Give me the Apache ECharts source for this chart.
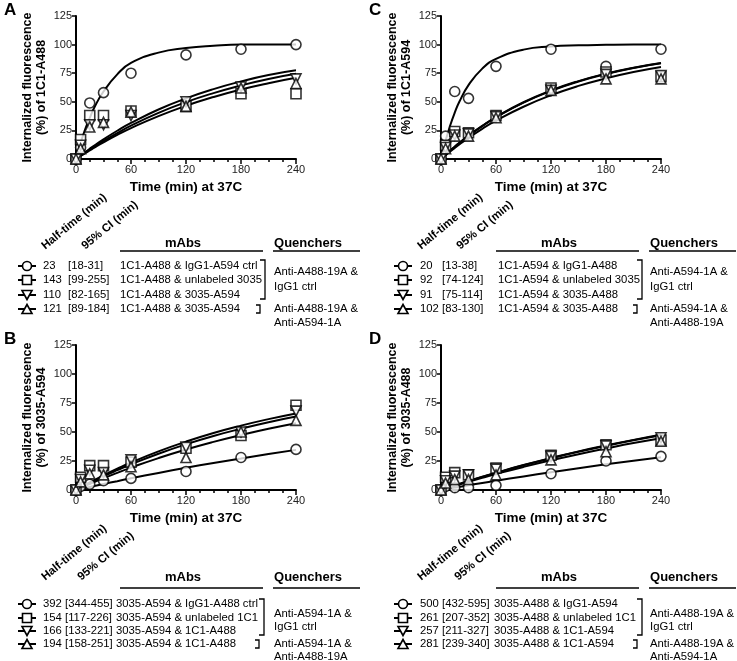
<!DOCTYPE html>
<html><head><meta charset="utf-8">
<script src="https://cdn.jsdelivr.net/npm/echarts@6/dist/echarts.min.js"></script>
<style>html,body{margin:0;padding:0;background:#fff}#c{width:737px;height:661px}</style>
</head><body><div id="c"></div>
<script>
// ---------- data ----------
const times = [0, 5, 15, 30, 60, 120, 180, 240];
const fitTimes = [0, 5, 10, 15, 20, 30, 45, 60, 90, 120, 150, 180, 210, 240];
const xTicks = [0, 60, 120, 180, 240];
const yTicks = [0, 25, 50, 75, 100, 125];

// Panel A (1C1-A488)
const A_circle = [0, 10, 49, 58, 75, 91, 96, 100];
const A_square = [0, 17, 38, 38, 42, 46, 57, 57];
const A_down   = [0, 12, 30, 30, 38, 50, 63, 70];
const A_up     = [0, 9, 28, 32, 41, 46, 62, 66];
const A_fitCircle = [0, 14, 26, 36, 45, 59, 74, 84, 93, 97, 99, 100, 100, 100];
const A_fitSquare = [0, 2.6, 5.1, 7.5, 9.9, 14.5, 21.0, 27.0, 37.5, 46.5, 54.2, 60.8, 66.3, 71.0];
const A_fitDown   = [0, 3.1, 6.1, 9.0, 11.8, 17.2, 24.7, 31.5, 43.3, 53.0, 61.1, 67.8, 73.4, 77.5];
const A_fitUp     = [0, 2.8, 5.6, 8.2, 10.8, 15.8, 22.7, 29.1, 40.3, 49.7, 57.6, 64.3, 70.0, 74.5];
const A_half = ['23', '143', '110', '121'];
const A_ci = ['[18-31]', '[99-255]', '[82-165]', '[89-184]'];
const A_mabs = ['1C1-A488 & IgG1-A594 ctrl', '1C1-A488 & unlabeled 3035', '1C1-A488 & 3035-A594', '1C1-A488 & 3035-A594'];
const A_q1 = ['Anti-A488-19A &', 'IgG1 ctrl'];
const A_q2 = ['Anti-A488-19A &', 'Anti-A594-1A'];

// Panel C (1C1-A594)
const C_circle = [0, 20, 59, 53, 81, 96, 81, 96];
const C_square = [0, 12, 24, 23, 38, 62, 76, 72];
const C_down   = [0, 10, 21, 22, 37, 60, 74, 73];
const C_up     = [0, 9, 20, 20, 36, 60, 70, 70];
const C_fitCircle = [0, 15.9, 29.3, 40.5, 50, 64.6, 79.0, 87.5, 95.6, 98.4, 99.4, 99.8, 100, 100];
const C_fitSquare = [0, 3.7, 7.3, 10.7, 14.0, 20.2, 28.7, 36.4, 49.2, 59.5, 67.7, 74.2, 79.5, 83.6];
const C_fitDown   = [0, 3.7, 7.3, 10.8, 14.1, 20.4, 29.0, 36.7, 49.6, 59.9, 68.1, 74.6, 79.8, 83.9];
const C_fitUp     = [0, 3.3, 6.6, 9.7, 12.7, 18.4, 26.4, 33.5, 45.7, 55.7, 63.9, 70.5, 76.0, 80.4];
const C_half = ['20', '92', '91', '102'];
const C_ci = ['[13-38]', '[74-124]', '[75-114]', '[83-130]'];
const C_mabs = ['1C1-A594 & IgG1-A488', '1C1-A594 & unlabeled 3035', '1C1-A594 & 3035-A488', '1C1-A594 & 3035-A488'];
const C_q1 = ['Anti-A594-1A &', 'IgG1 ctrl'];
const C_q2 = ['Anti-A594-1A &', 'Anti-A488-19A'];

// Panel B (3035-A594)
const B_circle = [0, 3, 5, 8, 10, 16, 28, 35];
const B_square = [0, 11, 21, 21, 24, 36, 47, 73];
const B_down   = [0, 9, 17, 15, 26, 37, 50, 68];
const B_up     = [0, 7, 14, 13, 20, 28, 50, 60];
const B_fitCircle = [0, 0.9, 1.8, 2.6, 3.5, 5.2, 7.6, 10.1, 14.7, 19.1, 23.3, 27.2, 31.0, 34.6];
const B_fitSquare = [0, 2.2, 4.4, 6.5, 8.6, 12.6, 18.3, 23.7, 33.3, 41.7, 49.1, 55.5, 61.1, 66.0];
const B_fitDown   = [0, 2.1, 4.1, 6.1, 8.0, 11.8, 17.1, 22.2, 31.3, 39.4, 46.6, 52.8, 58.4, 63.3];
const B_fitUp     = [0, 1.8, 3.5, 5.2, 6.9, 10.2, 14.8, 19.3, 27.5, 34.9, 41.5, 47.4, 52.8, 57.6];
const B_half = ['392', '154', '166', '194'];
const B_ci = ['[344-455]', '[117-226]', '[133-221]', '[158-251]'];
const B_mabs = ['3035-A594 & IgG1-A488 ctrl', '3035-A594 & unlabeled 1C1', '3035-A594 & 1C1-A488', '3035-A594 & 1C1-A488'];
const B_q1 = ['Anti-A594-1A &', 'IgG1 ctrl'];
const B_q2 = ['Anti-A594-1A &', 'Anti-A488-19A'];

// Panel D (3035-A488)
const D_circle = [0, 3, 2, 2, 4, 14, 25, 29];
const D_square = [0, 11, 15, 13, 19, 30, 39, 43];
const D_down   = [0, 8, 12, 13, 18, 29, 38, 45];
const D_up     = [0, 6, 9, 9, 13, 26, 33, 42];
const D_fitCircle = [0, 0.7, 1.4, 2.1, 2.7, 4.1, 6.0, 8.0, 11.7, 15.3, 18.8, 22.1, 25.3, 28.3];
const D_fitSquare = [0, 1.3, 2.6, 3.9, 5.2, 7.7, 11.3, 14.7, 21.3, 27.3, 32.9, 38.0, 42.8, 47.2];
const D_fitDown   = [0, 1.3, 2.7, 4.0, 5.3, 7.8, 11.4, 14.9, 21.5, 27.6, 33.3, 38.4, 43.2, 47.6];
const D_fitUp     = [0, 1.2, 2.4, 3.6, 4.8, 7.1, 10.5, 13.8, 19.9, 25.6, 30.9, 35.8, 40.5, 44.7];
const D_half = ['500', '261', '257', '281'];
const D_ci = ['[432-595]', '[207-352]', '[211-327]', '[239-340]'];
const D_mabs = ['3035-A488 & IgG1-A594', '3035-A488 & unlabeled 1C1', '3035-A488 & 1C1-A594', '3035-A488 & 1C1-A594'];
const D_q1 = ['Anti-A488-19A &', 'IgG1 ctrl'];
const D_q2 = ['Anti-A488-19A &', 'Anti-A594-1A'];

const yTitle1 = 'Internalized fluorescence';
const xTitle = 'Time (min) at 37C';

// ---------- layout ----------
const FF = "'Liberation Sans', Arial, Helvetica, sans-serif";
const font = (s, b) => (b ? 'bold ' : '') + s + 'px ' + FF;

const panels = [
  { letter: 'A', left: 76, top: 16, h: 143, yName: '(%) of 1C1-A488',
    pts: [A_circle, A_square, A_down, A_up], fits: [A_fitCircle, A_fitSquare, A_fitDown, A_fitUp],
    half: A_half, ci: A_ci, mabs: A_mabs, q1: A_q1, q2: A_q2,
    L: { dx: 0, numX: 43, ciX: 68, mabsX: 120, ciRotX: 87, htRotX: 47, rotY: 252, headerY: 243, lineY: 251,
         brX: 265, br2X: 260, rows: [266, 280, 295, 309], q1y: [272, 287], q2y: [309, 323], br: [260, 299], br2: 309 } },
  { letter: 'C', left: 441, top: 16, h: 143, yName: '(%) of 1C1-A594',
    pts: [C_circle, C_square, C_down, C_up], fits: [C_fitCircle, C_fitSquare, C_fitDown, C_fitUp],
    half: C_half, ci: C_ci, mabs: C_mabs, q1: C_q1, q2: C_q2,
    L: { dx: 376, numX: 420, ciX: 442, mabsX: 498, ciRotX: 462, htRotX: 423, rotY: 252, headerY: 243, lineY: 251,
         brX: 642, br2X: 637, rows: [266, 280, 295, 309], q1y: [272, 287], q2y: [309, 323], br: [260, 299], br2: 309 } },
  { letter: 'B', left: 76, top: 345, h: 145, yName: '(%) of 3035-A594',
    pts: [B_circle, B_square, B_down, B_up], fits: [B_fitCircle, B_fitSquare, B_fitDown, B_fitUp],
    half: B_half, ci: B_ci, mabs: B_mabs, q1: B_q1, q2: B_q2,
    L: { dx: 0, numX: 43, ciX: 65, mabsX: 116, ciRotX: 83, htRotX: 47, rotY: 583, headerY: 577, lineY: 588,
         brX: 264, br2X: 259, rows: [604, 618, 631, 644], q1y: [614, 627], q2y: [644, 657], br: [599, 635], br2: 644 } },
  { letter: 'D', left: 441, top: 345, h: 145, yName: '(%) of 3035-A488',
    pts: [D_circle, D_square, D_down, D_up], fits: [D_fitCircle, D_fitSquare, D_fitDown, D_fitUp],
    half: D_half, ci: D_ci, mabs: D_mabs, q1: D_q1, q2: D_q2,
    L: { dx: 376, numX: 420, ciX: 442, mabsX: 494, ciRotX: 460, htRotX: 423, rotY: 583, headerY: 577, lineY: 588,
         brX: 642, br2X: 637, rows: [604, 618, 631, 644], q1y: [614, 627], q2y: [644, 657], br: [599, 635], br2: 644 } }
];

const SYM = [
  { symbol: 'circle', rotate: 0 },
  { symbol: 'rect', rotate: 0 },
  { symbol: 'triangle', rotate: 180 },
  { symbol: 'triangle', rotate: 0 }
];

const grid = [], xAxis = [], yAxis = [], series = [], graphic = [];

panels.forEach((p, i) => {
  grid.push({ left: p.left, top: p.top, width: 220, height: p.h, containLabel: false });
  xAxis.push({
    gridIndex: i, type: 'value', min: 0, max: 240, interval: 60,
    name: xTitle, nameLocation: 'middle', nameGap: 21,
    nameTextStyle: { fontFamily: FF, fontWeight: 'bold', fontSize: 13.5, color: '#000' },
    axisLine: { lineStyle: { color: '#000', width: 2 } },
    axisTick: { show: true, length: 5, lineStyle: { color: '#000', width: 1.5 } },
    minorTick: { show: true, splitNumber: 4, length: 3, lineStyle: { color: '#000', width: 1.5 } },
    axisLabel: { fontFamily: FF, fontSize: 11, color: '#222', margin: 5,
      formatter: v => xTicks.indexOf(v) >= 0 ? String(v) : '' },
    splitLine: { show: false }
  });
  yAxis.push({
    gridIndex: i, type: 'value', min: 0, max: 125, interval: 25,
    name: yTitle1 + '\n' + p.yName, nameLocation: 'middle', nameGap: 27,
    nameTextStyle: { fontFamily: FF, fontWeight: 'bold', fontSize: 12.5, color: '#000', lineHeight: 14 },
    axisLine: { lineStyle: { color: '#000', width: 2 } },
    axisTick: { show: true, length: 4, lineStyle: { color: '#000', width: 1.5 } },
    axisLabel: { fontFamily: FF, fontSize: 11, color: '#222', margin: 4,
      formatter: v => yTicks.indexOf(v) >= 0 ? String(v) : '' },
    splitLine: { show: false }
  });
  p.fits.forEach((f, k) => {
    series.push({
      type: 'line', xAxisIndex: i, yAxisIndex: i, z: 2,
      data: fitTimes.map((t, j) => [t, f[j]]),
      showSymbol: false, smooth: true, silent: true,
      lineStyle: { color: '#000', width: 2 }
    });
  });
  p.pts.forEach((v, k) => {
    series.push({
      type: 'scatter', xAxisIndex: i, yAxisIndex: i, z: 3 + k,
      data: times.map((t, j) => [t, v[j]]),
      symbol: SYM[k].symbol, symbolRotate: SYM[k].rotate, symbolSize: 10,
      itemStyle: { color: '#fff', borderColor: '#000', borderWidth: 1.6 },
      clip: false
    });
  });

  // panel letter
  graphic.push({ type: 'text', x: p.left - 72, y: p.top - 14,
    style: { text: p.letter, font: font(17, true), fill: '#000', textAlign: 'left', textVerticalAlign: 'top' } });

  // ---- table ----
  const L = p.L, dx = L.dx;
  graphic.push({ type: 'text', x: L.htRotX, y: L.rotY, rotation: 0.69,
    style: { text: 'Half-time (min)', font: font(11.5, true), fill: '#000', textAlign: 'left', textVerticalAlign: 'bottom' } });
  graphic.push({ type: 'text', x: L.ciRotX, y: L.rotY, rotation: 0.69,
    style: { text: '95% CI (min)', font: font(11.5, true), fill: '#000', textAlign: 'left', textVerticalAlign: 'bottom' } });
  graphic.push({ type: 'text', x: 183 + dx, y: L.headerY,
    style: { text: 'mAbs', font: font(13, true), fill: '#000', textAlign: 'center', textVerticalAlign: 'middle' } });
  graphic.push({ type: 'text', x: 308 + dx, y: L.headerY,
    style: { text: 'Quenchers', font: font(13, true), fill: '#000', textAlign: 'center', textVerticalAlign: 'middle' } });
  graphic.push({ type: 'line', shape: { x1: 120 + dx, y1: L.lineY, x2: 263 + dx, y2: L.lineY },
    style: { stroke: '#000', lineWidth: 1.4 } });
  graphic.push({ type: 'line', shape: { x1: 273 + dx, y1: L.lineY, x2: 360 + dx, y2: L.lineY },
    style: { stroke: '#000', lineWidth: 1.4 } });

  L.rows.forEach((ry, k) => {
    const cx = 27 + dx;
    graphic.push({ type: 'line', shape: { x1: cx - 9, y1: ry, x2: cx + 9, y2: ry }, style: { stroke: '#000', lineWidth: 2 } });
    const st = { fill: '#fff', stroke: '#000', lineWidth: 1.6 };
    if (k === 0) graphic.push({ type: 'circle', shape: { cx: cx, cy: ry, r: 4.5 }, style: st });
    else if (k === 1) graphic.push({ type: 'rect', shape: { x: cx - 4.5, y: ry - 4.5, width: 9, height: 9 }, style: st });
    else if (k === 2) graphic.push({ type: 'polygon', shape: { points: [[cx - 5, ry - 4.5], [cx + 5, ry - 4.5], [cx, ry + 4.5]] }, style: st });
    else graphic.push({ type: 'polygon', shape: { points: [[cx - 5, ry + 4.5], [cx + 5, ry + 4.5], [cx, ry - 4.5]] }, style: st });
    const ts = (t, x) => ({ type: 'text', x: x, y: ry,
      style: { text: t, font: font(11.3, false), fill: '#000', textAlign: 'left', textVerticalAlign: 'middle' } });
    graphic.push(ts(p.half[k], L.numX));
    graphic.push(ts(p.ci[k], L.ciX));
    graphic.push(ts(p.mabs[k], L.mabsX));
  });
  const bx = L.brX;
  graphic.push({ type: 'polyline', shape: { points: [[bx - 5, L.br[0]], [bx, L.br[0]], [bx, L.br[1]], [bx - 5, L.br[1]]] },
    style: { stroke: '#000', lineWidth: 1.3, fill: null } });
  const b2 = L.br2X;
  graphic.push({ type: 'polyline', shape: { points: [[b2 - 4, L.br2 - 4], [b2, L.br2 - 4], [b2, L.br2 + 4], [b2 - 4, L.br2 + 4]] },
    style: { stroke: '#000', lineWidth: 1.3, fill: null } });
  const qs = (t, y) => ({ type: 'text', x: 274 + dx, y: y,
    style: { text: t, font: font(11.3, false), fill: '#000', textAlign: 'left', textVerticalAlign: 'middle' } });
  graphic.push(qs(p.q1[0], L.q1y[0]));
  graphic.push(qs(p.q1[1], L.q1y[1]));
  graphic.push(qs(p.q2[0], L.q2y[0]));
  graphic.push(qs(p.q2[1], L.q2y[1]));
});

const chart = echarts.init(document.getElementById('c'), null, { renderer: 'canvas' });
chart.setOption({
  backgroundColor: '#fff',
  animation: false,
  textStyle: { fontFamily: FF },
  grid, xAxis, yAxis, series, graphic
});
</script>
</body></html>
